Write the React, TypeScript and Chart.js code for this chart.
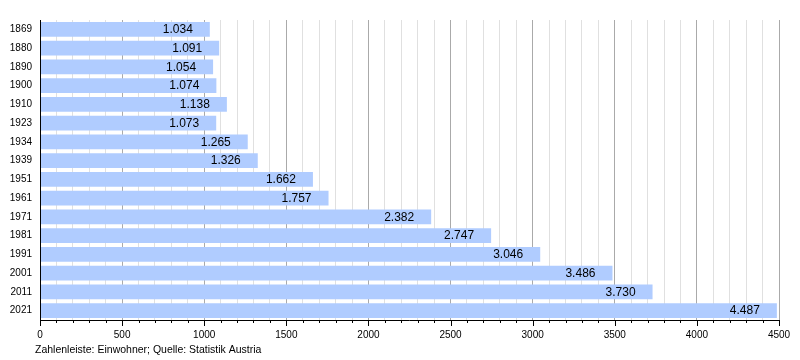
import React, { useEffect, useRef } from "react";
import { Chart, registerables } from "chart.js";

Chart.register(...registerables);

const years = ["1869", "1880", "1890", "1900", "1910", "1923", "1934", "1939", "1951", "1961", "1971", "1981", "1991", "2001", "2011", "2021"];
const population = [1034, 1091, 1054, 1074, 1138, 1073, 1265, 1326, 1662, 1757, 2382, 2747, 3046, 3486, 3730, 4487];
const footerText = "Zahlenleiste: Einwohner; Quelle: Statistik Austria";
const xMax = 4500;
const majorStep = 500;
const minorStep = 100;

const FONT = "'Liberation Sans', Arial, Helvetica, sans-serif";

function fmt(v: number): string {
  return v.toLocaleString("de-DE");
}

const overlayPlugin = {
  id: "overlay",
  afterDraw(chart: any) {
    const ctx = chart.ctx;
    const xs = chart.scales.x;
    const area = chart.chartArea;
    ctx.save();
    ctx.strokeStyle = "#000";
    ctx.lineWidth = 1;
    ctx.beginPath();
    ctx.moveTo(Math.round(area.left) + 0.5, area.top);
    ctx.lineTo(Math.round(area.left) + 0.5, area.bottom + 0.5);
    ctx.lineTo(area.right, Math.round(area.bottom) + 0.5);
    ctx.stroke();
    for (let v = 0; v <= xMax; v += minorStep) {
      const px = Math.round(xs.getPixelForValue(v)) + 0.5;
      const len = v % majorStep === 0 ? 6 : 3;
      ctx.beginPath();
      ctx.moveTo(px, Math.round(area.bottom));
      ctx.lineTo(px, Math.round(area.bottom) + len);
      ctx.stroke();
    }
    const meta = chart.getDatasetMeta(0);
    ctx.fillStyle = "#000";
    ctx.font = "12px " + FONT;
    ctx.textAlign = "right";
    ctx.textBaseline = "middle";
    meta.data.forEach((bar: any, i: number) => {
      ctx.fillText(fmt(population[i]), bar.x - 17, bar.y + 0.5);
    });
    ctx.font = "10.5px " + FONT;
    ctx.textAlign = "left";
    ctx.textBaseline = "middle";
    ctx.fillText(footerText, 35, 350);
    ctx.restore();
  },
};

export default function App() {
  const ref = useRef<HTMLCanvasElement>(null);
  useEffect(() => {
    if (!ref.current) return;
    const chart = new Chart(ref.current, {
      type: "bar",
      data: {
        labels: years,
        datasets: [
          {
            data: population,
            backgroundColor: "rgb(176,204,255)",
            borderWidth: 0,
            categoryPercentage: 1,
            barPercentage: 0.78,
          },
        ],
      },
      options: {
        indexAxis: "y",
        animation: false,
        responsive: false,
        maintainAspectRatio: false,
        layout: { padding: { top: 20, right: 21, left: 0, bottom: 0 } },
        plugins: { legend: { display: false }, tooltip: { enabled: false }, title: { display: false } },
        scales: {
          x: {
            type: "linear",
            min: 0,
            max: xMax,
            afterFit(scale: any) {
              scale.height = 40;
            },
            grid: {
              drawTicks: false,
              color: (c: any) => (c.tick && c.tick.value % majorStep === 0 ? "#aaaaaa" : "#e0e0e0"),
              lineWidth: 1,
            },
            border: { display: false },
            ticks: {
              stepSize: minorStep,
              autoSkip: false,
              maxRotation: 0,
              padding: 9,
              color: "#000",
              font: { family: FONT, size: 10 },
              callback: (v: any) => (Number(v) % majorStep === 0 ? String(v) : ""),
            },
          },
          y: {
            afterFit(scale: any) {
              scale.width = 40;
            },
            grid: { display: false, drawTicks: false },
            border: { display: false },
            ticks: {
              padding: 8,
              color: "#000",
              font: { family: FONT, size: 10 },
            },
          },
        },
      },
      plugins: [overlayPlugin],
    });
    return () => chart.destroy();
  }, []);
  return (
    <div style={{ position: "fixed", left: 0, top: 0, width: 800, height: 360, background: "#fff" }}>
      <canvas ref={ref} width={800} height={360} style={{ width: 800, height: 360 }} />
    </div>
  );
}
